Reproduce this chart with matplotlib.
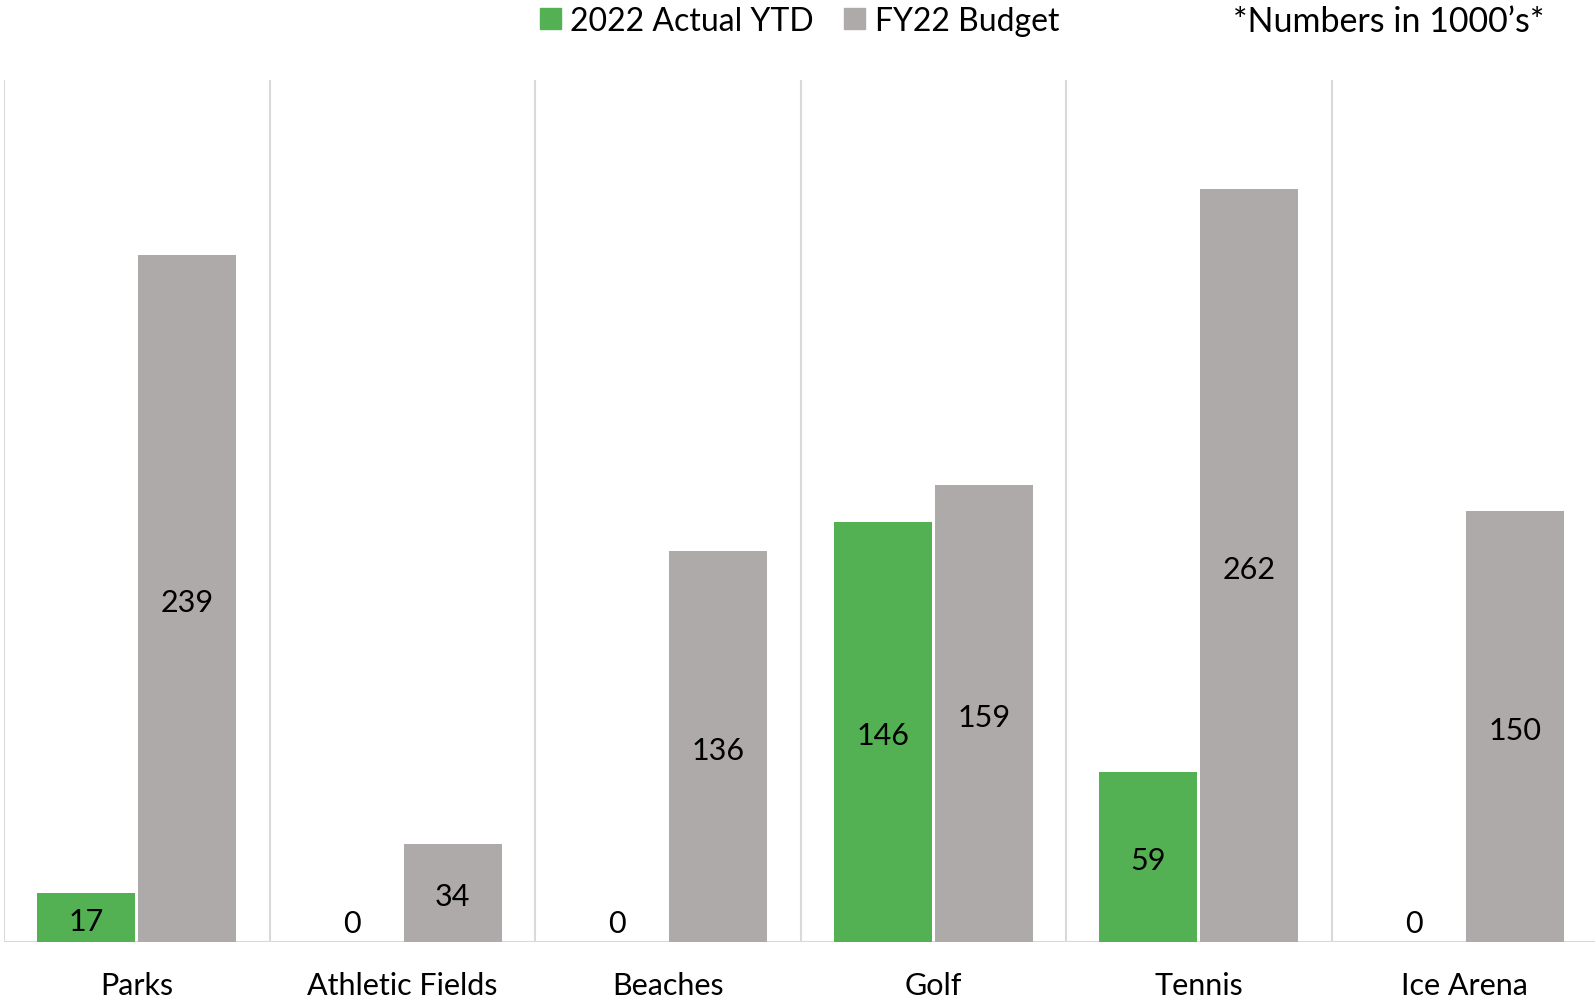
import numpy as np
import matplotlib.pyplot as plt
import matplotlib.transforms as mtransforms
from matplotlib.patches import Patch

plt.rcParams['font.family'] = ['Lato', 'DejaVu Sans']

# ---------- Data (in 1000's) ----------
categories = ['Parks', 'Athletic Fields', 'Beaches', 'Golf', 'Tennis', 'Ice Arena']
actual_ytd = [17, 0, 0, 146, 59, 0]
fy22_budget = [239, 34, 136, 159, 262, 150]
series_names = ['2022 Actual YTD', 'FY22 Budget']

green = '#54B153'
gray = '#AEAAAA'
line_col = '#D9D9D9'

W, H = 1595, 1003
fig = plt.figure(figsize=(W / 100, H / 100), dpi=100)
ax = fig.add_axes([4 / W, 60 / H, 1593 / W, 862 / H])

x = np.arange(len(categories))
bw = 0.37
off = 0.19
b1 = ax.bar(x - off, actual_ytd, bw, color=green, zorder=3)
b2 = ax.bar(x + off, fy22_budget, bw, color=gray, zorder=3)

# data labels centred in the bars (nudged down a few px)
shift = mtransforms.offset_copy(ax.transData, fig=fig, x=0, y=-3, units='dots')
for bars, vals in ((b1, actual_ytd), (b2, fy22_budget)):
    for rect, v in zip(bars, vals):
        yc = v / 2 if v > 8 else 7.5
        ax.text(rect.get_x() + rect.get_width() / 2, yc, f'{v}', transform=shift,
                ha='center', va='center', fontsize=22, color='black', zorder=4)

ax.set_xlim(-0.5, len(categories) - 0.5)
ax.set_ylim(0, 300)

for xv in np.arange(-0.5, len(categories), 1.0):
    ax.axvline(xv, color=line_col, linewidth=1.5, zorder=1)
ax.axhline(0, color=line_col, linewidth=1.5, zorder=2)

for s in ax.spines.values():
    s.set_visible(False)
ax.set_yticks([])
ax.set_xticks(x)
ax.set_xticklabels(categories, fontsize=22)
ax.tick_params(axis='x', length=0, pad=21)

handles = [Patch(color=green), Patch(color=gray)]
fig.legend(handles, series_names, loc='center left', bbox_to_anchor=(540 / W, 1 - 22 / H),
           ncol=2, frameon=False, fontsize=23, handlelength=0.65, handleheight=0.65,
           handletextpad=0.3, columnspacing=0.95, borderaxespad=0, borderpad=0)

fig.text(1544 / W, 1 - 22 / H, '*Numbers in 1000\u2019s*', ha='right', va='center', fontsize=24.5)

fig.savefig('out.png', dpi=100)
